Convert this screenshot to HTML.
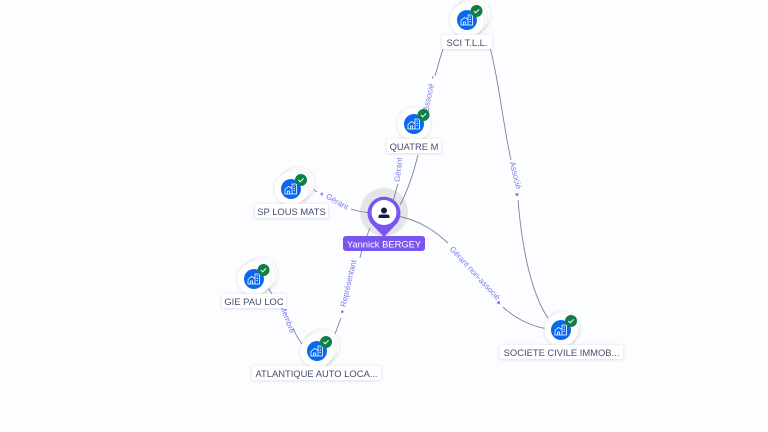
<!DOCTYPE html>
<html><head><meta charset="utf-8">
<style>
html,body{margin:0;padding:0;background:#fbfdff}
svg{display:block}
text{font-family:"Liberation Sans",sans-serif}
.e{fill:none;stroke:#7d8099;stroke-width:.9}
.l{font-size:8px;fill:#7f78ee;text-anchor:middle}
.a{fill:#7a5cf0}
.n{font-size:9.400px;fill:#474c70;text-anchor:middle}
.b{fill:#fff;filter:url(#s)}
</style></head><body>
<svg width="768" height="432" viewBox="0 0 768 432" xmlns="http://www.w3.org/2000/svg">
<defs>
<filter id="s" x="-30%" y="-30%" width="160%" height="160%"><feDropShadow dx="0" dy="0.5" stdDeviation="1.500" flood-color="#5a6080" flood-opacity=".24"/></filter>
<g id="ic">
<circle cx="0" cy="0" r="10" fill="#0a68ee"/>
<path d="M-6 5V.5L-2.500-2.500L1-.5V5M1-1V-5H5.500V5H-6.500M-3.500 5V2H-1.500V5M2.500-3H4M2.500-.7H4M2.500 1.600H4" fill="none" stroke="#fff" stroke-width=".8"/>
</g>
<g id="ok">
<circle r="6" fill="#0f7f45"/>
<path d="M-2.600 0L-.8 1.800L2.600-1.600" fill="none" stroke="#fff" stroke-width="1"/>
</g>
</defs>
<rect width="768" height="432" fill="#fbfdff"/>
<circle cx="384" cy="212" r="24" fill="#e3e5e9"/>

<!-- edges -->
<path class="e" d="M443 49C440 58 437 69 435 76"/>
<path class="e" d="M428 112L429 108"/>
<path class="e" d="M489 44C498 75 504 130 511 160"/>
<path class="e" d="M518 200C522 250 532 295 548 318"/>
<path class="e" d="M398 184C396 190 394 196 393 203"/>
<path class="e" d="M418 155C413 175 408 190 400 205"/>
<path class="e" d="M311 188L317 192"/>
<path class="e" d="M351 209C357 211 363 212 370 213"/>
<path class="e" d="M397 216C420 220 436 232 448 243"/>
<path class="e" d="M503 307C515 318 530 326 548 329"/>
<path class="e" d="M370 228C366 238 362 248 360 258"/>
<path class="e" d="M341 318L335 334"/>
<path class="e" d="M268 288L272 294"/>
<path class="e" d="M293 328C296 335 299 341 303 345"/>

<!-- edge labels -->
<text class="l" transform="translate(431 98) rotate(-77)">Associé</text>
<text class="l" transform="translate(513 176) rotate(76)">Associé</text>
<text class="l" transform="translate(401 170) rotate(-84)">Gérant</text>
<text class="l" transform="translate(336 204) rotate(30)">Gérant</text>
<text class="l" transform="translate(473 275) rotate(47)">Gérant non-associé</text>
<text class="l" transform="translate(351 284) rotate(-77)">Représentant</text>
<text class="l" transform="translate(285 320) rotate(70)">Membre</text>
<path class="a" d="M433 78.500l-1.500-.5 2-2.500z"/>
<path class="a" d="M515 193.500h4l-2 3z"/>
<path class="a" d="M320 194l3-1.800-.5 3.500z"/>
<path class="a" d="M500 304.500l-.5-4-3 2.500z"/>
<path class="a" d="M342 313l1.800-.8-1.500-2.500-1.500 2.500z"/>

<!-- node stacks -->
<g>
<circle cx="473" cy="15" r="17" class="b"/><circle cx="470" cy="18" r="17" class="b"/><circle cx="467" cy="20" r="17" class="b"/>
<use href="#ic" x="467" y="20"/><use href="#ok" x="476.500" y="11"/>
<rect x="442" y="35" width="50" height="14" rx="2" class="b"/><text class="n" x="467" y="46">SCI T.L.L.</text>
</g>
<g>
<circle cx="414" cy="124" r="16.500" class="b"/>
<use href="#ic" x="414" y="124"/><use href="#ok" x="423.500" y="115"/>
<rect x="387" y="139" width="54" height="14" rx="2" class="b"/><text class="n" x="414" y="150">QUATRE M</text>
</g>
<g>
<circle cx="298" cy="184" r="16.500" class="b"/><circle cx="295" cy="186" r="16.500" class="b"/><circle cx="291" cy="189" r="16.500" class="b"/>
<use href="#ic" x="291" y="189"/><use href="#ok" x="301" y="180"/>
<rect x="255" y="204" width="73" height="14" rx="2" class="b"/><text class="n" x="291.500" y="215">SP LOUS MATS</text>
</g>
<g>
<circle cx="261" cy="274" r="16.500" class="b"/><circle cx="258" cy="276" r="16.500" class="b"/><circle cx="254" cy="279" r="16.500" class="b"/>
<use href="#ic" x="254" y="279"/><use href="#ok" x="263.500" y="270"/>
<rect x="222" y="294" width="64" height="14" rx="2" class="b"/><text class="n" x="254" y="305">GIE PAU LOC</text>
</g>
<g>
<circle cx="323" cy="346" r="16.500" class="b"/><circle cx="320" cy="348" r="16.500" class="b"/><circle cx="317" cy="351" r="16.500" class="b"/>
<use href="#ic" x="317" y="351"/><use href="#ok" x="326" y="342"/>
<rect x="252" y="366" width="129" height="14" rx="2" class="b"/><text class="n" x="316.500" y="377">ATLANTIQUE AUTO LOCA...</text>
</g>
<g>
<circle cx="563" cy="328" r="16.500" class="b"/><circle cx="561" cy="330" r="16.500" class="b"/>
<use href="#ic" x="561" y="330"/><use href="#ok" x="571" y="321"/>
<rect x="500" y="345" width="123" height="14" rx="2" class="b"/><text class="n" x="561.500" y="356">SOCIETE CIVILE IMMOB...</text>
</g>

<!-- central pin -->
<path d="M384 237L373 225.500A16.500 16.500 0 1 1 395 225.500Z" fill="#7a55f0"/>
<circle cx="384" cy="212.500" r="12.500" fill="#fff"/>
<circle cx="384" cy="210.500" r="3" fill="#0c1c4a"/>
<path d="M378.500 218V216.500Q378.500 214.500 381 214.500H387Q389.500 214.500 389.500 216.500V218Z" fill="#0c1c4a"/>
<rect x="343" y="236" width="82" height="15" rx="3" fill="#7a55f0"/>
<text x="384" y="247.300" font-size="9.400" fill="#fff" text-anchor="middle">Yannick BERGEY</text>
</svg>
</body></html>
